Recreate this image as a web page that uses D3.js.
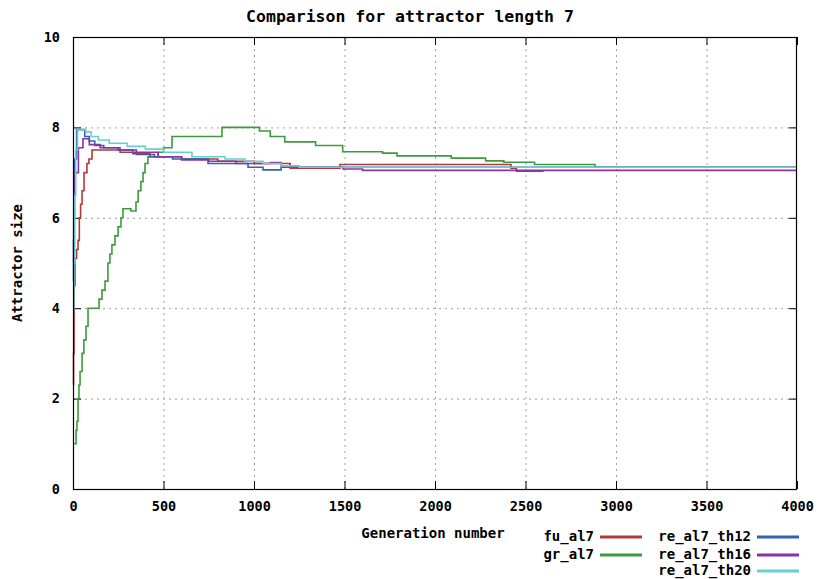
<!DOCTYPE html>
<html><head><meta charset="utf-8">
<script src="https://cdn.jsdelivr.net/npm/d3@7"></script>
<style>
html,body{margin:0;padding:0;background:#fff;}
text{font-family:"DejaVu Sans Mono","Liberation Mono",monospace;font-weight:bold;fill:#000;}
</style></head>
<body><svg id="c" width="820" height="579"></svg>
<script>
const titleText = "Comparison for attractor length 7";
const xLabel = "Generation number";
const yLabel = "Attractor size";
const xTicks = [0,500,1000,1500,2000,2500,3000,3500,4000];
const yTicks = [0,2,4,6,8,10];
const seriesNames = ["fu_al7","gr_al7","re_al7_th12","re_al7_th16","re_al7_th20"];
const seriesColors = ["#b03a3a","#3d9a3d","#3463ad","#8535a5","#66d0d0"];

const fu_al7 = [[0,2.3],[3,3.0],[6,4.5],[11,5.1],[20,5.3],[28,5.5],[35,6.0],[42,6.3],[50,6.6],[61,7.0],[77,7.2],[88,7.3],[105,7.5],[260,7.45],[350,7.4],[450,7.35],[600,7.3],[800,7.25],[1000,7.2],[1200,7.1],[1475,7.18],[2420,7.1],[2450,7.03],[2600,7.03]];
const gr_al7 = [[0,1.0],[17,1.3],[22,1.5],[28,2.0],[33,2.3],[39,2.6],[50,3.0],[60,3.3],[72,3.6],[83,4.0],[144,4.2],[160,4.4],[177,4.6],[193,5.0],[204,5.2],[215,5.4],[232,5.6],[249,5.8],[265,6.0],[276,6.2],[320,6.15],[348,6.35],[360,6.6],[375,6.8],[387,7.0],[398,7.2],[414,7.35],[470,7.45],[500,7.55],[547,7.8],[823,8.0],[1030,7.92],[1090,7.8],[1170,7.68],[1340,7.6],[1490,7.46],[1710,7.43],[1790,7.37],[2090,7.32],[2280,7.26],[2380,7.23],[2550,7.18],[2884,7.12],[4000,7.12]];
const re_al7_th12 = [[0,4.6],[3,5.5],[6,6.5],[10,7.3],[20,7.95],[65,7.8],[90,7.7],[120,7.6],[170,7.55],[260,7.5],[330,7.42],[425,7.35],[550,7.3],[746,7.2],[967,7.12],[1050,7.06],[1150,7.12],[4000,7.12]];
const re_al7_th16 = [[0,5.0],[4,6.0],[8,7.0],[30,7.55],[55,7.75],[90,7.62],[150,7.55],[250,7.5],[350,7.45],[470,7.35],[600,7.28],[750,7.25],[900,7.2],[1090,7.22],[1150,7.15],[1250,7.12],[1492,7.08],[1600,7.05],[4000,7.05]];
const re_al7_th20 = [[0,4.0],[5,5.0],[10,6.5],[15,7.5],[25,7.95],[70,7.9],[100,7.8],[140,7.72],[200,7.65],[300,7.58],[400,7.52],[500,7.45],[657,7.35],[840,7.3],[950,7.25],[1050,7.2],[1150,7.15],[1250,7.12],[4000,7.12]];
const allSeries = [fu_al7,gr_al7,re_al7_th12,re_al7_th16,re_al7_th20];

const svg = d3.select("#c");
const L=73,R=797,T=37,B=489;
const x = d3.scaleLinear().domain([0,4000]).range([L,R]);
const y = d3.scaleLinear().domain([0,10]).range([B,T]);

// grid
const g = svg.append("g");
g.selectAll(".gx").data(xTicks.slice(1,-1)).enter().append("line")
 .attr("x1",d=>x(d)+0.5).attr("x2",d=>x(d)+0.5).attr("y1",T).attr("y2",B)
 .attr("stroke","#a0a0a0").attr("stroke-dasharray","2,4");
g.selectAll(".gy").data(yTicks.slice(1,-1)).enter().append("line")
 .attr("y1",d=>y(d)+0.5).attr("y2",d=>y(d)+0.5).attr("x1",L).attr("x2",R)
 .attr("stroke","#a0a0a0").attr("stroke-dasharray","2,4");

// axes
const xa = svg.append("g").attr("transform",`translate(0,${B})`)
 .call(d3.axisBottom(x).tickValues(xTicks).tickSize(0).tickPadding(12).tickFormat(d3.format("d")));
const ya = svg.append("g").attr("transform",`translate(${L},0)`)
 .call(d3.axisLeft(y).tickValues(yTicks).tickSize(0).tickPadding(13).tickFormat(d3.format("d")));
[xa,ya].forEach(a=>{a.select(".domain").remove();a.selectAll("text").style("font-size","13.5px").attr("fill","#000");});
// inward ticks on all sides
const tk = svg.append("g").attr("stroke","#000");
xTicks.forEach(d=>{tk.append("line").attr("x1",x(d)+0.5).attr("x2",x(d)+0.5).attr("y1",B).attr("y2",B-8);
 tk.append("line").attr("x1",x(d)+0.5).attr("x2",x(d)+0.5).attr("y1",T).attr("y2",T+8);});
yTicks.forEach(d=>{tk.append("line").attr("y1",y(d)+0.5).attr("y2",y(d)+0.5).attr("x1",L).attr("x2",L+8);
 tk.append("line").attr("y1",y(d)+0.5).attr("y2",y(d)+0.5).attr("x1",R).attr("x2",R-8);});

// lines
const line = d3.line().x(d=>x(d[0])).y(d=>y(d[1])).curve(d3.curveStepAfter);
svg.append("g").selectAll("path").data(allSeries).enter().append("path")
 .attr("d",line).attr("fill","none").attr("stroke",(d,i)=>seriesColors[i]).attr("stroke-width",1.6);

// frame
svg.append("rect").attr("x",L+0.5).attr("y",T+0.5).attr("width",R-L-1).attr("height",B-T)
 .attr("fill","none").attr("stroke","#000").attr("stroke-width",1.2);

// title and labels
svg.append("text").attr("x",410).attr("y",22).attr("text-anchor","middle").style("font-size","16.5px").text(titleText);
svg.append("text").attr("x",433).attr("y",538).attr("text-anchor","middle").style("font-size","14px").text(xLabel);
svg.append("text").attr("transform","translate(22,263) rotate(-90)").attr("text-anchor","middle").style("font-size","14px").text(yLabel);

// legend
const legPos = [[594,537],[594,555],[751,537],[751,555],[751,571]];
const lg = svg.append("g");
seriesNames.forEach((n,i)=>{
 const [lx,ly]=legPos[i];
 lg.append("text").attr("x",lx).attr("y",ly+4).attr("text-anchor","end").style("font-size","14px").text(n);
 lg.append("line").attr("x1",lx+6).attr("x2",lx+48).attr("y1",ly).attr("y2",ly)
  .attr("stroke",seriesColors[i]).attr("stroke-width",3);
});
</script></body></html>
